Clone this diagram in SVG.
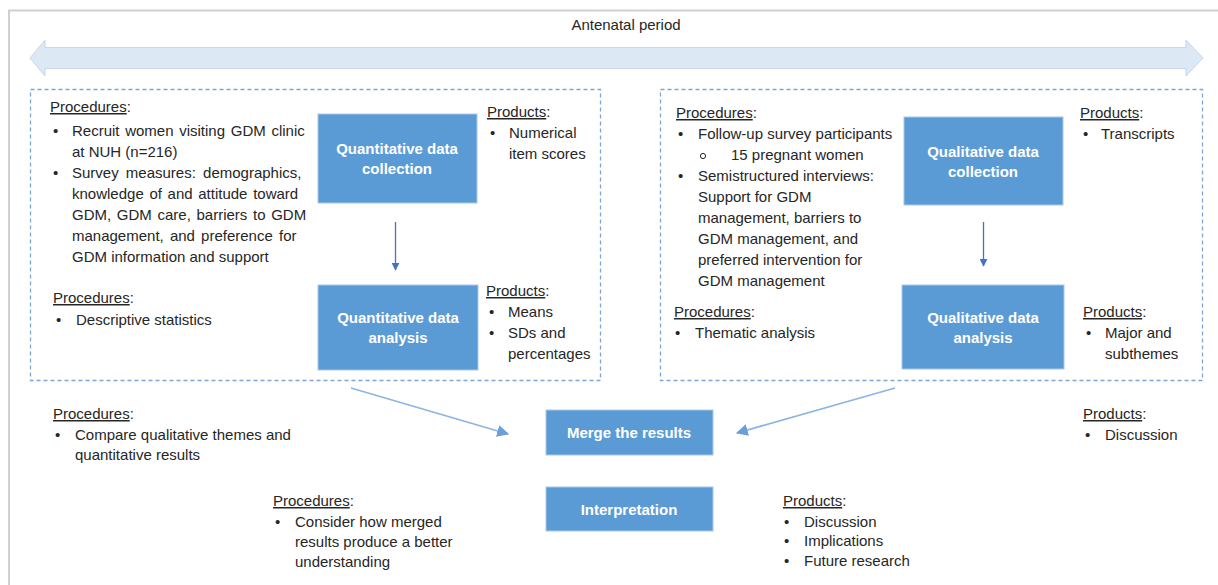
<svg xmlns="http://www.w3.org/2000/svg" width="1218" height="585" viewBox="0 0 1218 585">
<defs>
<style>
text{font-family:"Liberation Sans",Arial,sans-serif;font-size:15px;fill:#262626}
.h{text-decoration:underline}
.bx{fill:#5b9bd5;stroke:#a9c8e8;stroke-width:1}
.bt{fill:#ffffff;font-weight:bold;text-anchor:middle;font-size:15px}
.dash{fill:none;stroke:#7fa6cf;stroke-width:1.3;stroke-dasharray:4 3}
.dk{stroke:#4472c4;stroke-width:1.3;fill:none}
.lt{stroke:#8db4e2;stroke-width:1.8;fill:none}
</style>
<marker id="ad" viewBox="0 0 10 10" refX="9" refY="5" markerWidth="8" markerHeight="8" markerUnits="userSpaceOnUse" orient="auto"><path d="M0,0 L10,5 L0,10 Z" fill="#4472c4"/></marker>
<marker id="al" viewBox="0 0 10 10" refX="9" refY="5" markerWidth="12" markerHeight="12" markerUnits="userSpaceOnUse" orient="auto"><path d="M0,0 L10,5 L0,10 Z" fill="#6a9fd8"/></marker>
</defs>
<rect width="1218" height="585" fill="#ffffff"/>
<path d="M9,585 V10.5 H1218" fill="none" stroke="#d0d0d0" stroke-width="2"/>
<text x="626" y="30" text-anchor="middle" font-size="14">Antenatal period</text>
<path d="M30,58 L45,40 L45,47.5 L1186,47.5 L1186,40 L1203,58 L1186,76 L1186,68.5 L45,68.5 L45,76 Z" fill="#dde8f5" stroke="#c3d7ee" stroke-width="1"/>
<rect class="dash" x="30.5" y="89.5" width="570" height="291"/>
<rect class="dash" x="660.5" y="89.5" width="542" height="291"/>

<g id="connectors">
<line class="dk" x1="395.5" y1="222" x2="395.5" y2="270" marker-end="url(#ad)"/>
<line class="dk" x1="983.5" y1="222" x2="983.5" y2="266" marker-end="url(#ad)"/>
<line class="lt" x1="351" y1="388" x2="508" y2="434" marker-end="url(#al)"/>
<line class="lt" x1="895" y1="388" x2="737" y2="433" marker-end="url(#al)"/>
</g>

<g id="quant-collection">
<rect class="bx" x="318" y="114" width="159" height="89"/>
<text class="bt" x="397" y="154">Quantitative data</text>
<text class="bt" x="397" y="174">collection</text>
</g>
<g id="quant-analysis">
<rect class="bx" x="318" y="285" width="160" height="85"/>
<text class="bt" x="398" y="323">Quantitative data</text>
<text class="bt" x="398" y="343">analysis</text>
</g>
<g id="qual-collection">
<rect class="bx" x="904" y="117" width="159" height="88"/>
<text class="bt" x="983" y="157">Qualitative data</text>
<text class="bt" x="983" y="177">collection</text>
</g>
<g id="qual-analysis">
<rect class="bx" x="902" y="285" width="162" height="84"/>
<text class="bt" x="983" y="323">Qualitative data</text>
<text class="bt" x="983" y="343">analysis</text>
</g>
<g id="merge">
<rect class="bx" x="546" y="410" width="167" height="45"/>
<text class="bt" x="629" y="438">Merge the results</text>
</g>
<g id="interpretation">
<rect class="bx" x="546" y="487" width="167" height="44"/>
<text class="bt" x="629" y="515">Interpretation</text>
</g>

<g id="quant-procedures">
<text x="50" y="112"><tspan class="h">Procedures</tspan>:</text>
<text x="53" y="136">•</text><text x="72" y="136" word-spacing="1.5">Recruit women visiting GDM clinic</text>
<text x="72" y="157">at NUH (n=216)</text>
<text x="53" y="178">•</text><text x="72" y="178" word-spacing="3">Survey measures: demographics,</text>
<text x="72" y="199" word-spacing="1.5">knowledge of and attitude toward</text>
<text x="72" y="220" word-spacing="1.5">GDM, GDM care, barriers to GDM</text>
<text x="72" y="241" word-spacing="2">management, and preference for</text>
<text x="72" y="262">GDM information and support</text>
<text x="53" y="303"><tspan class="h">Procedures</tspan>:</text>
<text x="56" y="325">•</text><text x="76" y="325">Descriptive statistics</text>
</g>
<g id="quant-products">
<text x="487" y="117"><tspan class="h">Products</tspan>:</text>
<text x="490" y="138">•</text><text x="509" y="138">Numerical</text>
<text x="509" y="159">item scores</text>
<text x="486" y="296"><tspan class="h">Products</tspan>:</text>
<text x="489" y="317">•</text><text x="508" y="317">Means</text>
<text x="489" y="338">•</text><text x="508" y="338">SDs and</text>
<text x="508" y="359">percentages</text>
</g>
<g id="qual-procedures">
<text x="676" y="118"><tspan class="h">Procedures</tspan>:</text>
<text x="678" y="139">•</text><text x="698" y="139">Follow-up survey participants</text>
<circle cx="703" cy="156" r="2.6" fill="none" stroke="#262626" stroke-width="1"/><text x="731" y="160">15 pregnant women</text>
<text x="678" y="181">•</text><text x="698" y="181">Semistructured interviews:</text>
<text x="698" y="202">Support for GDM</text>
<text x="698" y="223">management, barriers to</text>
<text x="698" y="244">GDM management, and</text>
<text x="698" y="265">preferred intervention for</text>
<text x="698" y="286">GDM management</text>
<text x="674" y="317"><tspan class="h">Procedures</tspan>:</text>
<text x="675" y="338">•</text><text x="695" y="338">Thematic analysis</text>
</g>
<g id="qual-products">
<text x="1080" y="118"><tspan class="h">Products</tspan>:</text>
<text x="1083" y="139">•</text><text x="1101" y="139">Transcripts</text>
<text x="1083" y="317"><tspan class="h">Products</tspan>:</text>
<text x="1086" y="338">•</text><text x="1105" y="338">Major and</text>
<text x="1105" y="359">subthemes</text>
</g>
<g id="merge-notes">
<text x="53" y="419"><tspan class="h">Procedures</tspan>:</text>
<text x="55" y="440">•</text><text x="75" y="440">Compare qualitative themes and</text>
<text x="75" y="460">quantitative results</text>
<text x="1083" y="419"><tspan class="h">Products</tspan>:</text>
<text x="1085" y="440">•</text><text x="1105" y="440">Discussion</text>
</g>
<g id="interpretation-notes">
<text x="273" y="506"><tspan class="h">Procedures</tspan>:</text>
<text x="275" y="527">•</text><text x="295" y="527">Consider how merged</text>
<text x="295" y="547">results produce a better</text>
<text x="295" y="567">understanding</text>
<text x="783" y="506"><tspan class="h">Products</tspan>:</text>
<text x="784" y="527">•</text><text x="804" y="527">Discussion</text>
<text x="784" y="546">•</text><text x="804" y="546">Implications</text>
<text x="784" y="566">•</text><text x="804" y="566">Future research</text>
</g>
</svg>
